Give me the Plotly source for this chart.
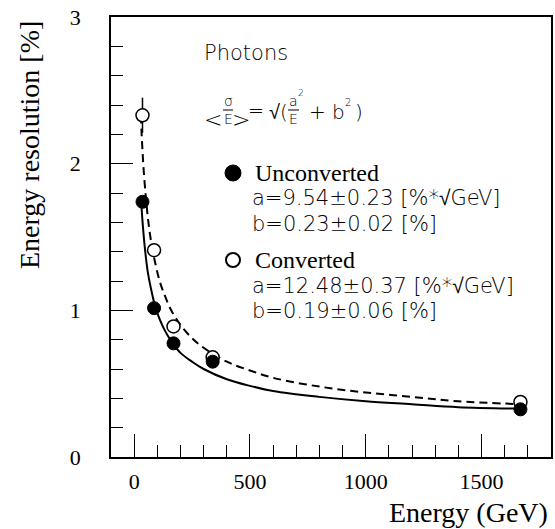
import plotly.graph_objects as go

# ---------------- data ----------------
energy = [36, 86, 170, 339, 1668]
res_unconverted = [1.74, 1.015, 0.775, 0.65, 0.325]
err_unconverted = [0.03, 0.02, 0.02, 0.01, 0.01]
res_converted = [2.33, 1.41, 0.89, 0.68, 0.375]
err_converted = [0.12, 0.04, 0.03, 0.02, 0.02]

# fitted curves
fit_e_unconv = [31, 35, 40, 50, 60, 75, 90, 110, 130, 160, 200, 250, 300, 400, 500,
                600, 800, 1000, 1200, 1400, 1670]
fit_r_unconv = [1.73, 1.63, 1.53, 1.37, 1.25, 1.13, 1.03, 0.94, 0.87, 0.79, 0.71, 0.65,
                0.60, 0.53, 0.485, 0.45, 0.41, 0.38, 0.36, 0.34, 0.33]
fit_e_conv = [29, 32, 35, 40, 50, 60, 75, 90, 110, 130, 160, 200, 250, 300, 400, 500,
              600, 800, 1000, 1200, 1400, 1670]
fit_r_conv = [2.33, 2.21, 2.12, 1.98, 1.78, 1.62, 1.45, 1.33, 1.20, 1.11, 1.00, 0.90,
              0.81, 0.745, 0.65, 0.59, 0.54, 0.48, 0.44, 0.41, 0.38, 0.36]

x_ticks = [0, 500, 1000, 1500]
y_ticks = [0, 1, 2, 3]

# ---------------- layout helpers (pixel -> paper) ----------------
FW, FH = 555, 529
L, T, W, H = 111, 17, 440, 440   # plot frame in pixels


def px(x):
    return (x - L) / W


def py(y):
    return (T + H - y) / H


SERIF = "Liberation Serif, Times New Roman, serif"
SANS = "DejaVu Sans, sans-serif"

fig = go.Figure()

fig.add_trace(go.Scatter(x=fit_e_conv, y=fit_r_conv, mode="lines", line_shape="spline",
                         line=dict(color="black", width=2, dash="8px,5px"),
                         showlegend=False, hoverinfo="skip"))
fig.add_trace(go.Scatter(x=fit_e_unconv, y=fit_r_unconv, mode="lines", line_shape="spline",
                         line=dict(color="black", width=2),
                         showlegend=False, hoverinfo="skip"))
fig.add_trace(go.Scatter(x=energy, y=res_converted, mode="markers",
                         marker=dict(symbol="circle", size=13, color="white",
                                     line=dict(color="black", width=1.5)),
                         error_y=dict(type="data", array=err_converted, color="black",
                                      thickness=1.5, width=0),
                         showlegend=False))
fig.add_trace(go.Scatter(x=energy, y=res_unconverted, mode="markers",
                         marker=dict(symbol="circle", size=13, color="black",
                                     line=dict(color="black", width=1)),
                         error_y=dict(type="data", array=err_unconverted, color="black",
                                      thickness=1.5, width=0),
                         showlegend=False))

annotations = []


def txt(text, x, y, size, family=SANS, xanchor="left", yanchor="middle", angle=0, weight=None):
    f = dict(family=family, size=size, color="black")
    if weight is not None:
        f["weight"] = weight
    annotations.append(dict(text=text, x=px(x), y=py(y), xref="paper", yref="paper",
                            xanchor=xanchor, yanchor=yanchor, showarrow=False,
                            textangle=angle, borderpad=0, font=f))


LW = 200  # light weight for the sans text

# titles
txt("Energy resolution [%]", 29, 145, 28, SERIF, xanchor="center", angle=-90)
txt("Energy (GeV)", 549, 512, 28, SERIF, xanchor="right")

# info block
txt("Photons", 203, 53, 21, weight=LW)
# formula  <sigma/E> = sqrt(a^2/E + b^2)
txt("&lt;", 213, 119, 22, xanchor="center", weight=LW)
txt("σ", 228, 101, 14, xanchor="center", weight=LW)
txt("E", 228, 119, 14, xanchor="center", weight=LW)
txt("&gt;", 241, 119, 22, xanchor="center", weight=LW)
txt("=", 256, 110, 19, xanchor="center", weight=LW)
txt("√", 274, 112, 20, xanchor="center", weight=LW)
txt("(", 284, 112, 20, xanchor="center", weight=LW)
txt("a", 293, 101, 14, xanchor="center", weight=LW)
txt("2", 301, 93, 9, xanchor="center", weight=LW)
txt("E", 293, 119, 14, xanchor="center", weight=LW)
txt("+", 317, 112, 20, xanchor="center", weight=LW)
txt("b", 338, 112, 20, xanchor="center", weight=LW)
txt("2", 348, 103, 10, xanchor="center", weight=LW)
txt(")", 359, 112, 20, xanchor="center", weight=LW)

txt("Unconverted", 254, 173, 24, SERIF)
txt("a=9.54±0.23 [%*√GeV]", 251, 198, 21, weight=LW)
txt("b=0.23±0.02 [%]", 251, 224, 21, weight=LW)
txt("Converted", 254, 260, 24, SERIF)
txt("a=12.48±0.37 [%*√GeV]", 251, 286, 21, weight=LW)
txt("b=0.19±0.06 [%]", 251, 311, 21, weight=LW)

shapes = [
    # fraction bars
    dict(type="line", xref="paper", yref="paper", x0=px(223), x1=px(233), y0=py(110), y1=py(110),
         line=dict(color="black", width=1)),
    dict(type="line", xref="paper", yref="paper", x0=px(288), x1=px(299), y0=py(110), y1=py(110),
         line=dict(color="black", width=1)),
    # legend markers
    dict(type="circle", xref="paper", yref="paper", x0=px(225), x1=px(241), y0=py(181), y1=py(165),
         fillcolor="black", line=dict(color="black", width=1)),
    dict(type="circle", xref="paper", yref="paper", x0=px(226), x1=px(240), y0=py(267), y1=py(253),
         fillcolor="white", line=dict(color="black", width=2)),
]

axis_common = dict(showgrid=False, zeroline=False, showline=True, linecolor="black",
                   linewidth=1.5, mirror=True, ticks="inside", tickcolor="black",
                   tickwidth=1, automargin=False,
                   tickfont=dict(family=SERIF, size=22, color="black"))

fig.update_layout(
    width=FW, height=FH,
    margin=dict(l=L, r=FW - L - W, t=T, b=FH - T - H, pad=0),
    paper_bgcolor="white", plot_bgcolor="white",
    xaxis=dict(range=[-100, 1800], tickvals=x_ticks, ticktext=[str(v) for v in x_ticks],
               ticklen=23, ticklabelstandoff=4,
               minor=dict(ticks="inside", ticklen=12, dtick=100, tick0=0,
                          tickcolor="black", tickwidth=1, showgrid=False),
               **axis_common),
    yaxis=dict(range=[0, 3], tickvals=y_ticks, ticktext=[str(v) for v in y_ticks],
               ticklen=22, ticklabelstandoff=24,
               minor=dict(ticks="inside", ticklen=12, dtick=0.2, tick0=0,
                          tickcolor="black", tickwidth=1, showgrid=False),
               **axis_common),
    annotations=annotations,
    shapes=shapes,
    showlegend=False,
)

fig.write_html("out.html", config={"displayModeBar": False},
               post_script="document.body.style.margin='0';document.body.style.padding='0';")
